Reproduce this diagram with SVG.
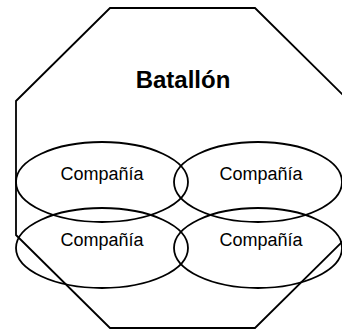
<svg xmlns="http://www.w3.org/2000/svg" width="342" height="330" viewBox="0 0 342 330">
<style>
.s{fill:none;stroke:#000;stroke-width:1.8}
.t{font-family:"Liberation Sans",Arial,sans-serif;font-size:18px;fill:#000;text-anchor:middle}
.b{font-family:"Liberation Sans",Arial,sans-serif;font-size:24px;font-weight:bold;fill:#000;text-anchor:middle}
</style>
<rect width="342" height="330" fill="#fff"/>
<g id="batallon">
<polygon class="s" points="110,8 255,8 349,101 349,235 255,328 110,328 16,235 16,101"/>
<text class="b" x="183" y="88">Batallón</text>
</g>
<g id="compania1">
<ellipse class="s" cx="102" cy="182" rx="86" ry="40"/>
<text class="t" x="102" y="180">Compañía</text>
</g>
<g id="compania2">
<ellipse class="s" cx="258" cy="182" rx="84" ry="40"/>
<text class="t" x="261" y="180">Compañía</text>
</g>
<g id="compania3">
<ellipse class="s" cx="102" cy="248" rx="86" ry="40"/>
<text class="t" x="102" y="246">Compañía</text>
</g>
<g id="compania4">
<ellipse class="s" cx="258" cy="248" rx="84" ry="40"/>
<text class="t" x="261" y="246">Compañía</text>
</g>
<g id="connectors"/>
</svg>
